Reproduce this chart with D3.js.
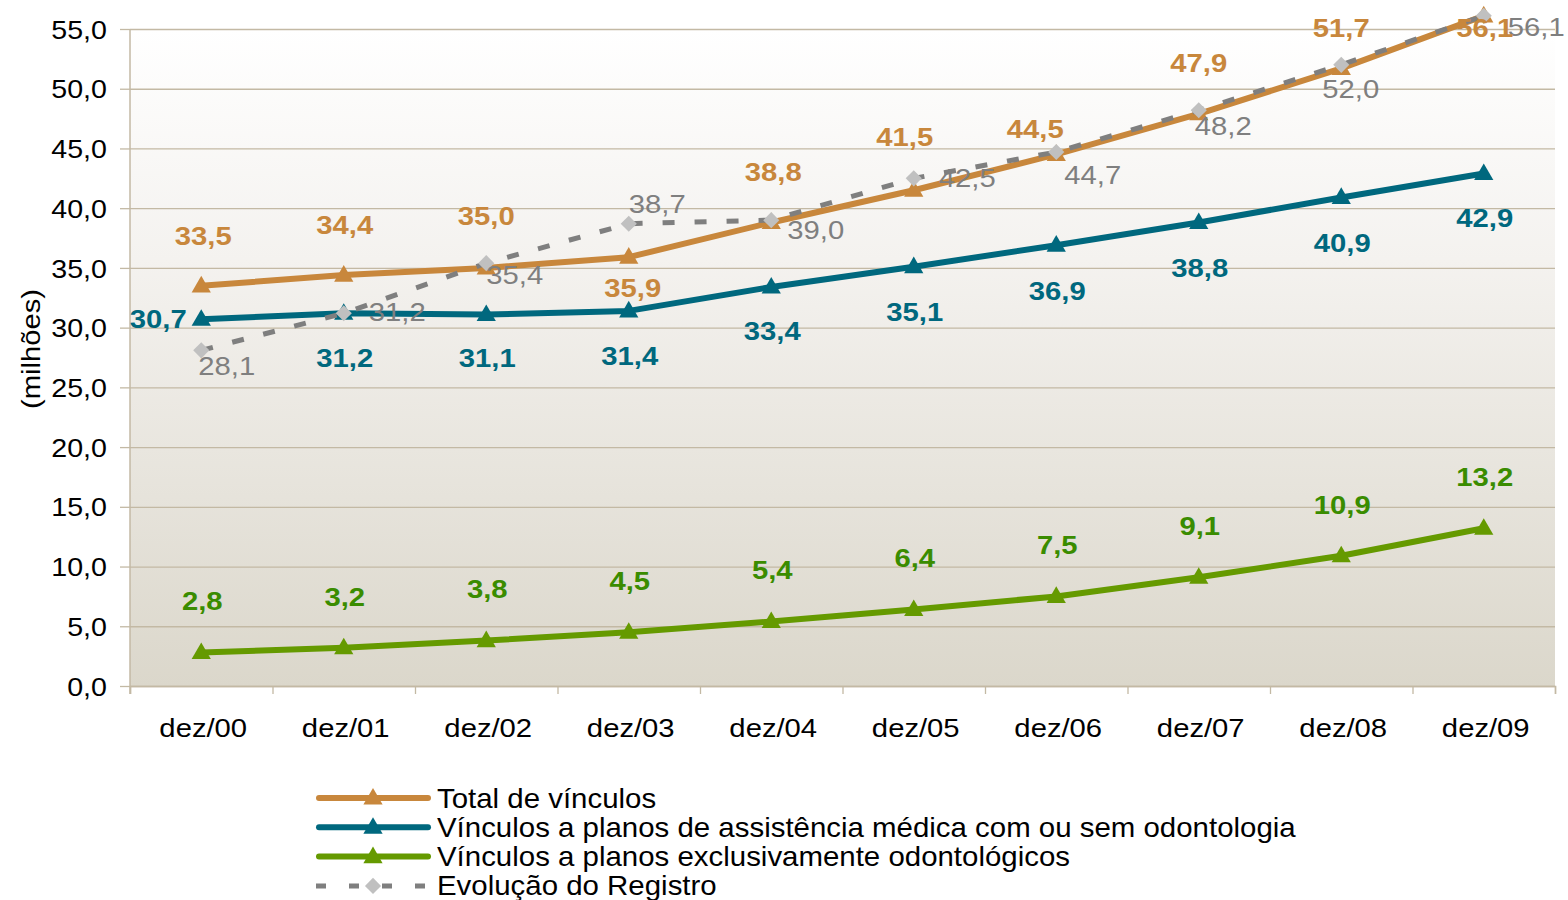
<!DOCTYPE html>
<html>
<head>
<meta charset="utf-8">
<script src="https://cdn.jsdelivr.net/npm/d3@7"></script>
<style>
  body { margin: 0; background: #fff; }
  svg { display: block; font-family: "Liberation Sans", Arial, sans-serif; }
</style>
</head>
<body>
<svg width="1568" height="900"></svg>
<script>
const categories = ["dez/00", "dez/01", "dez/02", "dez/03", "dez/04", "dez/05", "dez/06", "dez/07", "dez/08", "dez/09"]
const totalVinculos = [33.5, 34.4, 35.0, 35.9, 38.8, 41.5, 44.5, 47.9, 51.7, 56.1]
const medicos = [30.7, 31.2, 31.1, 31.4, 33.4, 35.1, 36.9, 38.8, 40.9, 42.9]
const odonto = [2.8, 3.2, 3.8, 4.5, 5.4, 6.4, 7.5, 9.1, 10.9, 13.2]
const registro = [28.1, 31.2, 35.4, 38.7, 39.0, 42.5, 44.7, 48.2, 52.0, 56.1]
const yTicks = [0, 5, 10, 15, 20, 25, 30, 35, 40, 45, 50, 55]
const seriesNames = ["Total de vínculos", "Vínculos a planos de assistência médica com ou sem odontologia", "Vínculos a planos exclusivamente odontológicos", "Evolução do Registro"]

// label placement (pixels, relative to the point)
const totalLabelDx = [2, 1, 0, 4, 2, -9, -21, 0, 0, 1]
const totalLabelDy = [-50, -50, -52, 31, -50, -53, -25, -51, -40, 12]
const medLabelDx = [-43, 1, 1, 1, 1, 1, 1, 1, 1, 1]
const medLabelDy = [0, 45, 44, 45, 44, 46, 46, 46, 46, 45]
const regLabelDx = [-3, 25, 0, 0, 16, 25, 8, -4, -19, 24]
const regLabelDy = [16, -1, 12, -19, 10, 0, 23, 16, 24, 11]

const svg = d3.select('svg')
const margin = { top: 29, right: 13, bottom: 214, left: 130 }
const width = +svg.attr('width')
const height = +svg.attr('height')
const innerWidth = width - margin.left - margin.right
const innerHeight = height - margin.top - margin.bottom

// text in the original is drawn a bit wider than the font
const stretch = 1.17

const fmt = (v) => d3.format('.1f')(v).replace('.', ',')

const xScale = d3.scaleBand().domain(categories).range([margin.left, width - margin.right])
const xEdges = d3.scaleLinear().domain([0, categories.length]).range([margin.left, width - margin.right])
const yScale = d3.scaleLinear().domain([0, 55]).range([height - margin.bottom, margin.top])
const cx = (i) => xScale(categories[i]) + xScale.bandwidth() / 2

// background gradient
const defs = svg.append('defs')
const grad = defs.append('linearGradient').attr('id', 'bg').attr('x1', 0).attr('y1', 0).attr('x2', 0).attr('y2', 1)
grad.append('stop').attr('offset', '0%').attr('stop-color', '#ffffff')
grad.append('stop').attr('offset', '35%').attr('stop-color', '#f4f2ef')
grad.append('stop').attr('offset', '100%').attr('stop-color', '#dbd7cb')

svg.append('rect')
    .attr('x', margin.left).attr('y', margin.top)
    .attr('width', innerWidth).attr('height', innerHeight)
    .attr('fill', 'url(#bg)')

// grid
const grid = svg.append('g')
    .attr('transform', 'translate(' + margin.left + ',0)')
    .call(d3.axisLeft(yScale).tickValues(yTicks).tickSize(-innerWidth).tickFormat(''))
grid.select('.domain').remove()
grid.selectAll('line').attr('stroke', '#c3b9a4').attr('stroke-width', 1.3)

// y axis
const yAxisG = svg.append('g')
    .attr('transform', 'translate(' + margin.left + ',0)')
    .call(d3.axisLeft(yScale).tickValues(yTicks).tickSize(10).tickPadding(11).tickFormat(fmt))
yAxisG.select('.domain').attr('stroke', '#c3b9a4').attr('stroke-width', 1.5)
    .attr('d', 'M0,' + margin.top + 'V' + (height - margin.bottom + 8))
yAxisG.selectAll('line').attr('stroke', '#c3b9a4').attr('stroke-width', 1.3)
yAxisG.selectAll('text').attr('fill', '#000').style('font-size', '26px').attr('dy', '0.35em')
    .attr('transform', 'scale(1.1,1)')

// x axis
const xTickG = svg.append('g')
    .attr('transform', 'translate(0,' + (height - margin.bottom) + ')')
    .call(d3.axisBottom(xEdges).tickValues(d3.range(0, categories.length + 1)).tickSize(8).tickFormat(''))
xTickG.select('.domain').attr('stroke', '#c3b9a4').attr('stroke-width', 1.5)
xTickG.selectAll('line').attr('stroke', '#c3b9a4').attr('stroke-width', 1.3)

const xAxisG = svg.append('g')
    .attr('transform', 'translate(0,' + (height - margin.bottom) + ')')
    .call(d3.axisBottom(xScale).tickSize(0).tickPadding(33))
xAxisG.select('.domain').remove()
xAxisG.selectAll('text').attr('fill', '#000').style('font-size', '25px')
    .attr('transform', 'scale(' + stretch + ',1)')
xAxisG.selectAll('.tick').attr('transform', (d) => 'translate(' + (xScale(d) + xScale.bandwidth() / 2 + 2) + ',0)')

// y title
svg.append('text')
    .attr('transform', 'translate(31,' + 349 + ') rotate(-90) scale(' + stretch + ',1)')
    .attr('text-anchor', 'middle')
    .attr('dominant-baseline', 'central')
    .style('font-size', '25px')
    .text('(milhões)')

const line = d3.line().x((d, i) => cx(i)).y((d) => yScale(d))
const tri = d3.symbol().type(d3.symbolTriangle).size(160)
const diamond = d3.symbol().type(d3.symbolSquare).size(130)

const series = [
    { values: totalVinculos, color: '#c8873c' },
    { values: medicos, color: '#00687e' },
    { values: odonto, color: '#659a00' }
]

series.forEach((s) => {
    svg.append('path').datum(s.values)
        .attr('d', line)
        .attr('fill', 'none')
        .attr('stroke', s.color)
        .attr('stroke-width', 6)
        .attr('stroke-linejoin', 'round')
    svg.append('g').selectAll('path').data(s.values).enter()
        .append('path')
        .attr('d', tri)
        .attr('fill', s.color)
        .attr('transform', (d, i) => 'translate(' + cx(i) + ',' + (yScale(d) + 1) + ')')
})

// registro dashed
svg.append('path').datum(registro)
    .attr('d', line)
    .attr('fill', 'none')
    .attr('stroke', '#7f7f7f')
    .attr('stroke-width', 5)
    .attr('stroke-dasharray', '12,20')
svg.append('g').selectAll('path').data(registro).enter()
    .append('path')
    .attr('d', diamond)
    .attr('fill', '#c0c0c0')
    .attr('transform', (d, i) => 'translate(' + cx(i) + ',' + yScale(d) + ') rotate(45)')

// value labels
const labelG = svg.append('g').style('font-size', '25px')

let addLabels = (values, dx, dy, opts) => {
    labelG.selectAll(null).data(values).enter()
        .append('text')
        .attr('transform', (d, i) => 'translate(' + (cx(i) + dx(i)) + ',' + (yScale(d) + dy(i)) + ') scale(' + stretch + ',1)')
        .attr('text-anchor', opts.anchor)
        .attr('dominant-baseline', 'central')
        .attr('font-weight', opts.weight)
        .attr('fill', opts.color)
        .text(fmt)
}

addLabels(registro, (i) => regLabelDx[i], (i) => regLabelDy[i], { anchor: 'start', weight: 'normal', color: '#7f7f7f' })
addLabels(odonto, (i) => 1, (i) => -51, { anchor: 'middle', weight: 'bold', color: '#3a8c00' })
addLabels(medicos, (i) => medLabelDx[i], (i) => medLabelDy[i], { anchor: 'middle', weight: 'bold', color: '#00687e' })
addLabels(totalVinculos, (i) => totalLabelDx[i], (i) => totalLabelDy[i], { anchor: 'middle', weight: 'bold', color: '#c8873c' })

// legend
const legend = svg.append('g').attr('transform', 'translate(316,798)')
const legColors = ['#c8873c', '#00687e', '#659a00', '#7f7f7f']
seriesNames.forEach((name, i) => {
    const row = legend.append('g').attr('transform', 'translate(0,' + (i * 29.3) + ')')
    if (i < 3) {
        row.append('line').attr('x1', 3).attr('x2', 112).attr('y1', 0).attr('y2', 0)
            .attr('stroke', legColors[i]).attr('stroke-width', 6).attr('stroke-linecap', 'round')
        row.append('path').attr('d', tri).attr('fill', legColors[i]).attr('transform', 'translate(57,1)')
    } else {
        row.append('line').attr('x1', 0).attr('x2', 114).attr('y1', 0).attr('y2', 0)
            .attr('stroke', '#7f7f7f').attr('stroke-width', 5).attr('stroke-dasharray', '10,23')
        row.append('path').attr('d', diamond).attr('fill', '#c0c0c0').attr('transform', 'translate(57,0) rotate(45)')
    }
    row.append('text')
        .attr('transform', 'translate(121,0) scale(1.09,1)')
        .attr('dominant-baseline', 'central')
        .style('font-size', '27px')
        .text(name)
})
</script>
</body>
</html>
